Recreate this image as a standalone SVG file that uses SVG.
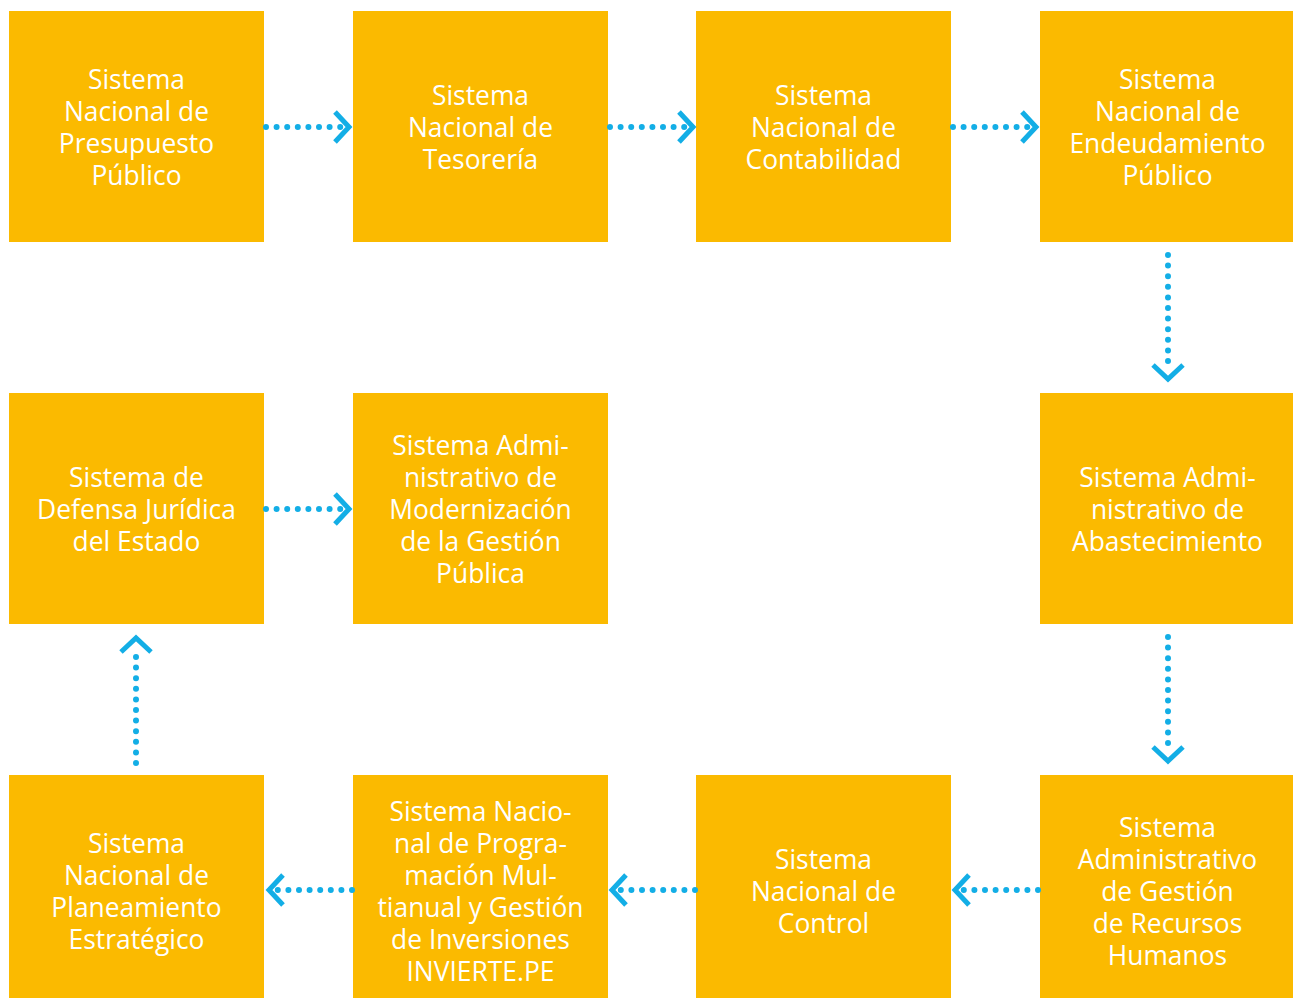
<svg xmlns="http://www.w3.org/2000/svg" width="1293" height="998" viewBox="0 0 1293 998">
<style>
.box{fill:#FBBA00}
.t{font-family:"Open Sans","Noto Sans",sans-serif;font-size:26.4px;fill:#FFFFFF;text-anchor:middle}
.dots{fill:none;stroke:#13AEE6;stroke-width:6;stroke-linecap:round;stroke-dasharray:0 10.6}
.chev{fill:none;stroke:#13AEE6;stroke-width:5;stroke-linejoin:miter;stroke-linecap:butt}
</style>
<rect width="1293" height="998" fill="#FFFFFF"/>
<g transform="translate(0,1)">
<g id="n1"><rect class="box" x="9" y="10" width="255" height="231"/><text class="t"><tspan x="136.5" y="88">Sistema</tspan><tspan x="136.5" y="120">Nacional de</tspan><tspan x="136.5" y="152">Presupuesto</tspan><tspan x="136.5" y="184">Público</tspan></text></g>
<g id="n2"><rect class="box" x="353" y="10" width="255" height="231"/><text class="t"><tspan x="480.5" y="104">Sistema</tspan><tspan x="480.5" y="136">Nacional de</tspan><tspan x="480.5" y="168">Tesorería</tspan></text></g>
<g id="n3"><rect class="box" x="696" y="10" width="255" height="231"/><text class="t"><tspan x="823.5" y="104">Sistema</tspan><tspan x="823.5" y="136">Nacional de</tspan><tspan x="823.5" y="168">Contabilidad</tspan></text></g>
<g id="n4"><rect class="box" x="1040" y="10" width="255" height="231"/><text class="t"><tspan x="1167.5" y="88">Sistema</tspan><tspan x="1167.5" y="120">Nacional de</tspan><tspan x="1167.5" y="152">Endeudamiento</tspan><tspan x="1167.5" y="184">Público</tspan></text></g>
<g id="n5"><rect class="box" x="9" y="392" width="255" height="231"/><text class="t"><tspan x="136.5" y="486">Sistema de</tspan><tspan x="136.5" y="518">Defensa Jurídica</tspan><tspan x="136.5" y="550">del Estado</tspan></text></g>
<g id="n6"><rect class="box" x="353" y="392" width="255" height="231"/><text class="t"><tspan x="480.5" y="454">Sistema Admi-</tspan><tspan x="480.5" y="486">nistrativo de</tspan><tspan x="480.5" y="518">Modernización</tspan><tspan x="480.5" y="550">de la Gestión</tspan><tspan x="480.5" y="582">Pública</tspan></text></g>
<g id="n8"><rect class="box" x="1040" y="392" width="255" height="231"/><text class="t"><tspan x="1167.5" y="486">Sistema Admi-</tspan><tspan x="1167.5" y="518">nistrativo de</tspan><tspan x="1167.5" y="550">Abastecimiento</tspan></text></g>
<g id="n9"><rect class="box" x="9" y="774" width="255" height="231"/><text class="t"><tspan x="136.5" y="852">Sistema</tspan><tspan x="136.5" y="884">Nacional de</tspan><tspan x="136.5" y="916">Planeamiento</tspan><tspan x="136.5" y="948">Estratégico</tspan></text></g>
<g id="n10"><rect class="box" x="353" y="774" width="255" height="231"/><text class="t"><tspan x="480.5" y="820">Sistema Nacio-</tspan><tspan x="480.5" y="852">nal de Progra-</tspan><tspan x="480.5" y="884">mación Mul-</tspan><tspan x="480.5" y="916">tianual y Gestión</tspan><tspan x="480.5" y="948">de Inversiones</tspan><tspan x="480.5" y="980">INVIERTE.PE</tspan></text></g>
<g id="n11"><rect class="box" x="696" y="774" width="255" height="231"/><text class="t"><tspan x="823.5" y="868">Sistema</tspan><tspan x="823.5" y="900">Nacional de</tspan><tspan x="823.5" y="932">Control</tspan></text></g>
<g id="n12"><rect class="box" x="1040" y="774" width="255" height="231"/><text class="t"><tspan x="1167.5" y="836">Sistema</tspan><tspan x="1167.5" y="868">Administrativo</tspan><tspan x="1167.5" y="900">de Gestión</tspan><tspan x="1167.5" y="932">de Recursos</tspan><tspan x="1167.5" y="964">Humanos</tspan></text></g>
</g>
<g id="connectors">
<path class="dots" d="M266 127H342"/><path class="chev" d="M335 112L349 127L335 142"/>
<path class="dots" d="M610 127H686"/><path class="chev" d="M679 112L693 127L679 142"/>
<path class="dots" d="M953 127H1029"/><path class="chev" d="M1022 112L1036 127L1022 142"/>
<path class="dots" d="M1168 255V370"/><path class="chev" d="M1153 365L1168 379L1183 365"/>
<path class="dots" d="M1168 637V752"/><path class="chev" d="M1153 747L1168 761L1183 747"/>
<path class="dots" d="M1038 890H962"/><path class="chev" d="M969 875L955 890L969 905"/>
<path class="dots" d="M695 890H619"/><path class="chev" d="M626 875L612 890L626 905"/>
<path class="dots" d="M352 890H276"/><path class="chev" d="M283 875L269 890L283 905"/>
<path class="dots" d="M136 763V648"/><path class="chev" d="M121 652L136 638L151 652"/>
<path class="dots" d="M266 509H342"/><path class="chev" d="M335 494L349 509L335 524"/>
</g>
</svg>
